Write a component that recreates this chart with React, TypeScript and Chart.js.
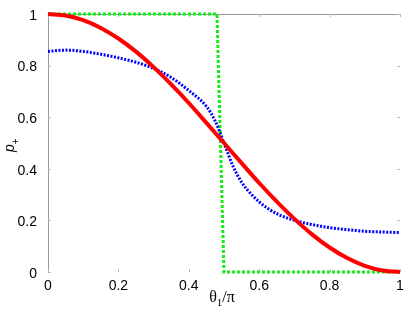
import React, { useEffect, useRef } from 'react';
import { Chart, registerables } from 'chart.js';

Chart.register(...registerables);

// ---- data ----
const tickValues = [0, 0.2, 0.4, 0.6, 0.8, 1];

const redX = [0, 0.05, 0.1, 0.15, 0.2, 0.25, 0.3, 0.35, 0.4, 0.45, 0.5, 0.55, 0.6, 0.65, 0.7, 0.75, 0.8, 0.85, 0.9, 0.95, 1];
const redY = [1, 0.994, 0.976, 0.946, 0.905, 0.854, 0.794, 0.727, 0.655, 0.578, 0.5, 0.422, 0.345, 0.273, 0.206, 0.146, 0.095, 0.054, 0.024, 0.006, 0];

const blueX = [0, 0.05, 0.1, 0.15, 0.2, 0.25, 0.3, 0.35, 0.4, 0.45, 0.475, 0.5, 0.525, 0.55, 0.575, 0.6, 0.625, 0.65, 0.7, 0.75, 0.8, 0.85, 0.9, 0.95, 1];
const blueY = [0.855, 0.86, 0.855, 0.844, 0.83, 0.813, 0.789, 0.754, 0.703, 0.642, 0.585, 0.5, 0.412, 0.348, 0.305, 0.272, 0.246, 0.226, 0.2, 0.184, 0.172, 0.164, 0.158, 0.155, 0.153];

const greenX = [0, 0.48, 0.49, 0.5, 1];
const greenY = [1, 1, 0.5, 0, 0];

const toPoints = (xs: number[], ys: number[]) => xs.map((x, i) => ({ x, y: ys[i] }));
const fmt = (v: any) => String(Number(Number(v).toFixed(1)));

const SANS = '"Liberation Sans", Arial, Helvetica, sans-serif';
const SERIF = '"Liberation Serif", "Times New Roman", serif';

const framePlugin = {
  id: 'frame',
  beforeDatasetsDraw(chart: any) {
    const { ctx, chartArea } = chart;
    const xs = chart.scales.x;
    const ys = chart.scales.y;
    ctx.save();
    ctx.strokeStyle = '#999';
    ctx.lineWidth = 1;
    ctx.beginPath();
    ctx.moveTo(chartArea.left, chartArea.top + 0.5);
    ctx.lineTo(chartArea.right, chartArea.top + 0.5);
    ctx.stroke();
    ctx.strokeStyle = '#bbb';
    ctx.beginPath();
    for (const v of tickValues) {
      const px = Math.round(xs.getPixelForValue(v)) + 0.5;
      ctx.moveTo(px, chartArea.bottom);
      ctx.lineTo(px, chartArea.bottom - 3);
      ctx.moveTo(px, chartArea.top);
      ctx.lineTo(px, chartArea.top + 3);
      const py = Math.round(ys.getPixelForValue(v)) + 0.5;
      ctx.moveTo(chartArea.left, py);
      ctx.lineTo(chartArea.left + 3, py);
      ctx.moveTo(chartArea.right, py);
      ctx.lineTo(chartArea.right - 3, py);
    }
    ctx.stroke();
    ctx.restore();
  },
  afterDraw(chart: any) {
    const { ctx, chartArea } = chart;
    ctx.save();
    ctx.fillStyle = '#000';
    ctx.textBaseline = 'alphabetic';
    ctx.textAlign = 'left';
    const big = '16px ' + SERIF;
    const small = '11px ' + SERIF;
    ctx.font = big;
    const wTheta = ctx.measureText('θ').width;
    const wRest = ctx.measureText('/π').width;
    ctx.font = small;
    const wOne = ctx.measureText('1').width;
    const total = wTheta + wOne + wRest;
    let x = (chartArea.left + chartArea.right) / 2 - 2 - total / 2;
    const base = 302;
    ctx.font = big;
    ctx.fillText('θ', x, base);
    x += wTheta;
    ctx.font = small;
    ctx.fillText('1', x, base + 4);
    x += wOne;
    ctx.font = big;
    ctx.fillText('/π', x, base);

    ctx.translate(14, 145);
    ctx.rotate(-Math.PI / 2);
    ctx.font = 'italic 14px ' + SANS;
    const wp = ctx.measureText('p').width;
    ctx.fillText('p', -7, 0);
    ctx.font = '10px ' + SANS;
    ctx.fillText('+', -7 + wp, 5);
    ctx.restore();
  },
};

export default function App() {
  const ref = useRef<HTMLCanvasElement>(null);
  useEffect(() => {
    if (!ref.current) return;
    const chart = new Chart(ref.current, {
      type: 'line',
      data: {
        datasets: [
          {
            label: 'red',
            data: toPoints(redX, redY),
            borderColor: '#ff0000',
            borderWidth: 4,
            pointRadius: 0,
            cubicInterpolationMode: 'monotone',
            clip: 6,
          },
          {
            label: 'blue',
            data: toPoints(blueX, blueY),
            borderColor: '#0000ff',
            borderWidth: 3,
            borderDash: [2, 1.5],
            pointRadius: 0,
            cubicInterpolationMode: 'monotone',
            clip: 6,
          },
          {
            label: 'green',
            data: toPoints(greenX, greenY),
            borderColor: '#11ee11',
            borderWidth: 3,
            borderDash: [3, 2],
            pointRadius: 0,
            tension: 0,
            clip: 6,
          },
        ],
      } as any,
      options: {
        animation: false,
        responsive: false,
        devicePixelRatio: 1,
        layout: { padding: { left: 0, right: 15, top: 14, bottom: 0 } },
        plugins: { legend: { display: false }, tooltip: { enabled: false } },
        scales: {
          x: {
            type: 'linear',
            min: 0,
            max: 1,
            grid: { display: false },
            border: { display: false },
            ticks: {
              stepSize: 0.2,
              padding: -2,
              color: '#000',
              font: { family: SANS, size: 14 },
              maxRotation: 0,
              callback: fmt,
            },
            afterFit(scale: any) {
              scale.height = 41;
            },
          },
          y: {
            type: 'linear',
            min: 0,
            max: 1,
            grid: { display: false },
            border: { display: true, color: '#999', width: 1 },
            ticks: {
              stepSize: 0.2,
              padding: 3,
              labelOffset: 2,
              color: '#000',
              font: { family: SANS, size: 14 },
              callback: fmt,
            },
            afterFit(scale: any) {
              scale.width = 48;
            },
          },
        },
      } as any,
      plugins: [framePlugin],
    });
    return () => chart.destroy();
  }, []);
  return (
    <div style={{ position: 'fixed', left: 0, top: 0, width: 415, height: 313, background: '#fff' }}>
      <canvas ref={ref} width={415} height={313} />
    </div>
  );
}
